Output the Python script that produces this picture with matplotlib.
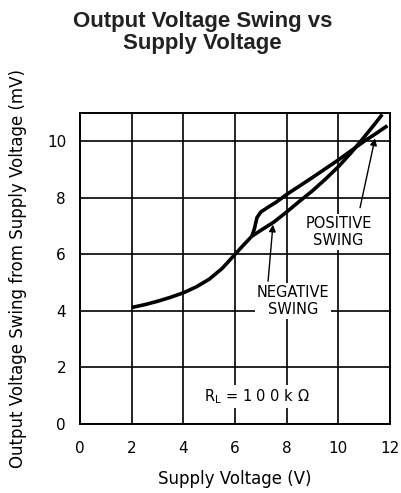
import numpy as np
import matplotlib
matplotlib.use("Agg")
import matplotlib.pyplot as plt

# curve
common_x = [2.0, 2.5, 3.0, 3.5, 4.0, 4.5, 5.0, 5.5, 6.0, 6.3, 6.65]
common_y = [4.12, 4.22, 4.34, 4.48, 4.64, 4.85, 5.12, 5.5, 6.0, 6.3, 6.64]

pos_x = [6.65, 6.75, 6.85, 7.0, 7.3, 7.6, 8.0, 8.5, 9.0, 9.5, 10.0, 10.5, 11.0, 11.5, 11.9]
pos_y = [6.64, 6.9, 7.3, 7.5, 7.68, 7.85, 8.12, 8.42, 8.72, 9.03, 9.34, 9.67, 10.0, 10.3, 10.55]

neg_x = [6.65, 7.0, 7.5, 8.0, 8.5, 9.0, 9.5, 10.0, 10.5, 11.0, 11.4, 11.7]
neg_y = [6.64, 6.85, 7.14, 7.5, 7.88, 8.25, 8.66, 9.1, 9.6, 10.15, 10.6, 10.95]

x_ticks = [0, 2, 4, 6, 8, 10, 12]
y_ticks = [0, 2, 4, 6, 8, 10]

fig = plt.figure(figsize=(4.01, 4.93), dpi=100)
ax = fig.add_axes([80 / 401, 69 / 493, 310 / 401, 311 / 493])

lw = 2.6
ax.plot(common_x, common_y, color="black", lw=lw, solid_capstyle="butt", zorder=3)
ax.plot(pos_x, pos_y, color="black", lw=lw, solid_capstyle="butt", zorder=3)
ax.plot(neg_x, neg_y, color="black", lw=lw, solid_capstyle="butt", zorder=3)

ax.set_xlim(0, 12)
ax.set_ylim(0, 11)
ax.set_xticks(x_ticks)
ax.set_yticks(y_ticks)
ax.grid(True, color="black", lw=1.2)
ax.tick_params(length=0, labelsize=11, pad=10)
ax.tick_params(axis="x", pad=12)
for s in ax.spines.values():
    s.set_linewidth(1.4)

box = dict(facecolor="white", edgecolor="none", pad=1.5)
ax.text(10.0, 6.8, "POSITIVE\nSWING", ha="center", va="center", fontsize=10.5,
        linespacing=1.15, bbox=box, zorder=4)
ax.text(8.25, 4.35, "NEGATIVE\nSWING", ha="center", va="center", fontsize=10.5,
        linespacing=1.15, bbox=box, zorder=4)
ax.text(6.85, 0.97, r"R$_\mathregular{L}$ = 1 0 0 k $\Omega$", ha="center", va="center",
        fontsize=10.5, bbox=box, zorder=4)

ax.annotate("", xy=(11.42, 10.1), xytext=(10.84, 7.65),
            arrowprops=dict(arrowstyle="-|>", color="black", lw=1.0,
                            mutation_scale=10, shrinkA=0, shrinkB=0), zorder=5)
ax.annotate("", xy=(7.47, 7.05), xytext=(7.28, 5.05),
            arrowprops=dict(arrowstyle="-|>", color="black", lw=1.0,
                            mutation_scale=10, shrinkA=0, shrinkB=0), zorder=5)

ax.set_xlabel("Supply Voltage (V)", fontsize=12, labelpad=10)
ax.set_ylabel("Output Voltage Swing from Supply Voltage (mV)", fontsize=12)
ax.yaxis.set_label_coords(-0.172, 0.5)

fig.text(0.505, 0.978, "Output Voltage Swing vs\nSupply Voltage", ha="center", va="top",
         fontsize=16, fontweight="bold", family="Liberation Sans", color="#222222",
         linespacing=1.05)

fig.savefig("out.png", dpi=100)
